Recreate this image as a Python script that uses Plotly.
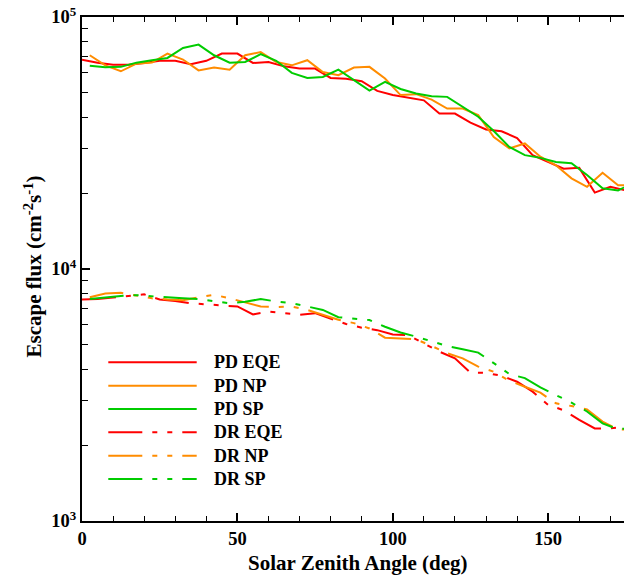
import plotly.graph_objects as go

# ---------------- data ----------------
sza_eqe = [0, 5, 10, 15, 20, 25, 30, 35, 40, 45, 50, 55, 60, 65, 70, 75, 80, 85,
           90, 95, 100, 105, 110, 115, 120, 125, 130, 135, 140, 145, 150, 155, 160, 165, 170, 175]
sza_pol = [2.5, 7.5, 12.5, 17.5, 22.5, 27.5, 32.5, 37.5, 42.5, 47.5, 52.5, 57.5, 62.5, 67.5,
           72.5, 77.5, 82.5, 87.5, 92.5, 97.5, 102.5, 107.5, 112.5, 117.5, 122.5, 127.5,
           132.5, 137.5, 142.5, 147.5, 152.5, 157.5, 162.5, 167.5, 172.5, 177.5]

pd_eqe = [67600, 65800, 64700, 64700, 65700, 67000, 67000, 64900, 67000, 71600, 71600, 65700,
          66300, 63700, 62400, 62400, 57300, 56900, 55600, 50900, 49000, 48000, 46700, 41400,
          41400, 38100, 35800, 35200, 33100, 28300, 26600, 25000, 25200, 20100, 21200, 20500]
pd_np = [70500, 64300, 60900, 65300, 65900, 71600, 67800, 61400, 63000, 61800, 70500, 72600,
         66300, 64300, 67400, 60500, 58800, 63000, 63400, 57000, 49000, 49400, 47000, 43300,
         43300, 40800, 33400, 30100, 31500, 27900, 25800, 22900, 21200, 24100, 21500, 21500]
pd_sp = [64100, 63200, 63400, 65900, 67400, 68800, 75400, 77700, 70500, 65900, 66300, 71200,
         67000, 60000, 57300, 57800, 61800, 56000, 51000, 55300, 51800, 49700, 48500, 48200,
         44000, 40200, 35300, 30500, 28300, 27600, 26600, 26300, 23600, 20900, 20500, 22000]

dr_eqe = [7570, 7600, 7700, 7820, 7930, 7570, 7470, 7310, 7250, 7160, 7100, 6600,
          6780, 6680, 6580, 6680, 6380, 6050, 5850, 5720, 5500, 5470, 5060, 4700,
          4420, 3880, 3870, 3770, 3570, 3260, 2890, 2750, 2520, 2330, 2330, 2370]
dr_np = [7720, 8000, 8050, 7820, 7650, 7570, 7520, 7720, 7900, 7650, 7350, 7100,
         7060, 7100, 6880, 6580, 6290, 6100, 5810, 5340, 5310, 5260, 4950, 4630,
         4420, 4100, 3910, 3600, 3410, 3230, 2930, 2860, 2770, 2480, 2310, 2300]
dr_sp = [7600, 7720, 7820, 7870, 7770, 7720, 7650, 7600, 7450, 7310, 7410, 7600,
         7430, 7310, 7100, 6880, 6440, 6370, 6270, 5900, 5600, 5390, 5150, 4950,
         4800, 4660, 4230, 3830, 3690, 3390, 3160, 2950, 2720, 2440, 2310, 2350]

series_names = ["PD EQE", "PD NP", "PD SP", "DR EQE", "DR NP", "DR SP"]

x_major = [0, 50, 100, 150]
x_minor = [10, 20, 30, 40, 60, 70, 80, 90, 110, 120, 130, 140, 160, 170]
y_major = [1e3, 1e4, 1e5]
y_major_text = ["10<sup>3</sup>", "10<sup>4</sup>", "10<sup>5</sup>"]
y_minor = [2e3, 3e3, 4e3, 5e3, 6e3, 7e3, 8e3, 9e3, 2e4, 3e4, 4e4, 5e4, 6e4, 7e4, 8e4, 9e4]

# ---------------- styles ----------------
RED = "#FF0000"
ORANGE = "#FF8C00"
GREEN = "#00CC00"
DRDASH = "34px,10px,5px,10px,5px,10px"
FONT = "Liberation Serif"

series = [
    (sza_eqe, pd_eqe, RED, "solid"),
    (sza_pol, pd_np, ORANGE, "solid"),
    (sza_pol, pd_sp, GREEN, "solid"),
    (sza_eqe, dr_eqe, RED, DRDASH),
    (sza_pol, dr_np, ORANGE, DRDASH),
    (sza_pol, dr_sp, GREEN, DRDASH),
]

fig = go.Figure()
for (xs, ys, col, dash), name in zip(series, series_names):
    fig.add_trace(go.Scatter(x=xs, y=ys, mode="lines", name=name,
                             line=dict(color=col, width=2, dash=dash),
                             showlegend=False))

W, H = 624, 576
ML, MR, MT, MB = 82, 0, 17, 55
PW, PH = W - ML - MR, H - MT - MB


def px2paper_x(px):
    return (px - ML) / PW


def px2paper_y(py):
    return (H - MB - py) / PH


# manual legend (long line samples as in the reference)
legend_rows = [362.3, 385.7, 409.0, 432.3, 455.7, 479.0]
shapes = []
annotations = []
for (xs, ys, col, dash), name, ry in zip(series, series_names, legend_rows):
    shapes.append(dict(type="line", xref="paper", yref="paper",
                       x0=px2paper_x(108.3), x1=px2paper_x(196.7),
                       y0=px2paper_y(ry), y1=px2paper_y(ry),
                       line=dict(color=col, width=2, dash=dash)))
    annotations.append(dict(text="<b>%s</b>" % name, xref="paper", yref="paper",
                            x=px2paper_x(212), y=px2paper_y(ry), xanchor="left",
                            yanchor="middle", showarrow=False,
                            font=dict(family=FONT, size=18, color="black")))

# axis titles
annotations.append(dict(text="<b>Solar Zenith Angle (deg)</b>", xref="paper", yref="paper",
                        x=px2paper_x(358), y=px2paper_y(563), xanchor="center",
                        yanchor="middle", showarrow=False,
                        font=dict(family=FONT, size=21, color="black")))
annotations.append(dict(text="<b>Escape flux (cm<sup>-2</sup>s<sup>-1</sup>)</b>",
                        xref="paper", yref="paper",
                        x=px2paper_x(33), y=px2paper_y(266.5), xanchor="center",
                        yanchor="middle", textangle=-90, showarrow=False,
                        font=dict(family=FONT, size=21, color="black")))

fig.update_layout(
    width=W, height=H,
    margin=dict(l=ML, r=MR, t=MT, b=MB, pad=0),
    paper_bgcolor="white", plot_bgcolor="white",
    font=dict(family=FONT, size=18, color="black"),
    shapes=shapes, annotations=annotations,
    xaxis=dict(range=[0, 174.4], showgrid=False, zeroline=False,
               showline=True, linecolor="black", linewidth=2, mirror="ticks",
               ticks="inside", ticklen=8, tickwidth=1.5, tickcolor="black",
               tickmode="array", tickvals=x_major,
               ticktext=["<b>%d</b>" % v for v in x_major],
               tickfont=dict(family=FONT, size=18.5, color="black"),
               minor=dict(tickmode="array", tickvals=x_minor, ticks="inside",
                          ticklen=5, tickwidth=1.2, tickcolor="black", showgrid=False)),
    yaxis=dict(type="log", range=[3, 5], showgrid=False, zeroline=False,
               showline=True, linecolor="black", linewidth=2, mirror=False,
               ticks="inside", ticklen=8, tickwidth=1.5, tickcolor="black",
               tickmode="array", tickvals=y_major,
               ticktext=["<b>%s</b>" % t for t in y_major_text],
               tickfont=dict(family=FONT, size=18.5, color="black"),
               minor=dict(tickmode="array", tickvals=y_minor, ticks="inside",
                          ticklen=6, tickwidth=1.2, tickcolor="black", showgrid=False)),
)

fig.write_html("out.html")
